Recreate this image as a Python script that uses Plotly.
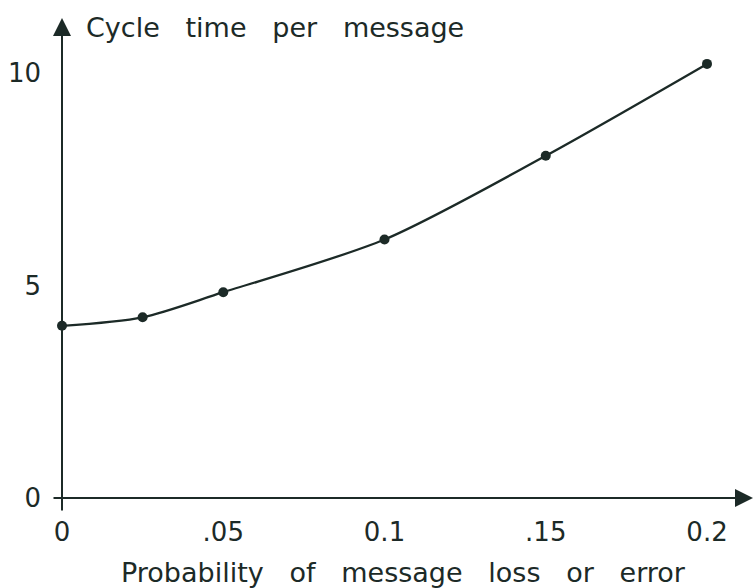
import plotly.graph_objects as go

# Data
prob = [0, 0.025, 0.05, 0.1, 0.15, 0.2]
cycle_time = [4.05, 4.25, 4.84, 6.08, 8.05, 10.21]

x_tickvals = [0, 0.05, 0.1, 0.15, 0.2]
x_ticktext = ["0", ".05", "0.1", ".15", "0.2"]
y_tickvals = [0, 5, 10]
y_ticktext = ["0", "5", "10"]

FONT = "DejaVu Sans"
INK = "#1c2a27"

X_MIN, X_MAX = -0.0031, 0.21426
Y_MIN, Y_MAX = -0.33, 11.29

fig = go.Figure()
fig.add_trace(go.Scatter(
    x=prob, y=cycle_time, mode="lines+markers",
    line=dict(color=INK, width=2.3, shape="spline", smoothing=0.8),
    marker=dict(color=INK, size=10),
    cliponaxis=False, showlegend=False, hoverinfo="skip",
))

# axis lines with arrowheads
fig.add_annotation(x=X_MAX, y=0, ax=X_MIN, ay=0, xref="x", yref="y",
                   axref="x", ayref="y", text="", showarrow=True,
                   arrowhead=2, arrowsize=1.8, arrowwidth=2, arrowcolor=INK)
fig.add_annotation(x=0, y=Y_MAX, ax=0, ay=Y_MIN, xref="x", yref="y",
                   axref="x", ayref="y", text="", showarrow=True,
                   arrowhead=2, arrowsize=1.8, arrowwidth=2, arrowcolor=INK)

fig.add_annotation(x=(84 - 62) / 3225, y=(512 - 28) / 494, xref="x", yref="paper",
                   xanchor="left", yanchor="middle",
                   text="Cycle   time   per   message",
                   showarrow=False, font=dict(family=FONT, size=27, color=INK))
fig.add_annotation(x=(403 - 62) / 3225, y=(512 - 572) / 494, xref="x", yref="paper",
                   xanchor="center", yanchor="middle",
                   text="Probability   of   message   loss   or   error",
                   showarrow=False, font=dict(family=FONT, size=27, color=INK))

fig.update_layout(
    width=753, height=588,
    margin=dict(l=52, r=0, t=18, b=76, autoexpand=False),
    plot_bgcolor="white", paper_bgcolor="white",
    xaxis=dict(range=[X_MIN, X_MAX], tickvals=x_tickvals, ticktext=x_ticktext,
               showgrid=False, zeroline=False, showline=False, ticks="",
               automargin=False, ticklabelstandoff=2,
               tickfont=dict(family=FONT, size=26, color=INK)),
    yaxis=dict(range=[Y_MIN, Y_MAX], tickvals=y_tickvals, ticktext=y_ticktext,
               showgrid=False, zeroline=False, showline=False, ticks="",
               automargin=False, ticklabelstandoff=10,
               tickfont=dict(family=FONT, size=26, color=INK)),
)

fig.write_html("out.html",
               config={"displayModeBar": False, "staticPlot": True},
               post_script="document.body.style.margin='0';"
                           "document.body.style.overflow='hidden';")
